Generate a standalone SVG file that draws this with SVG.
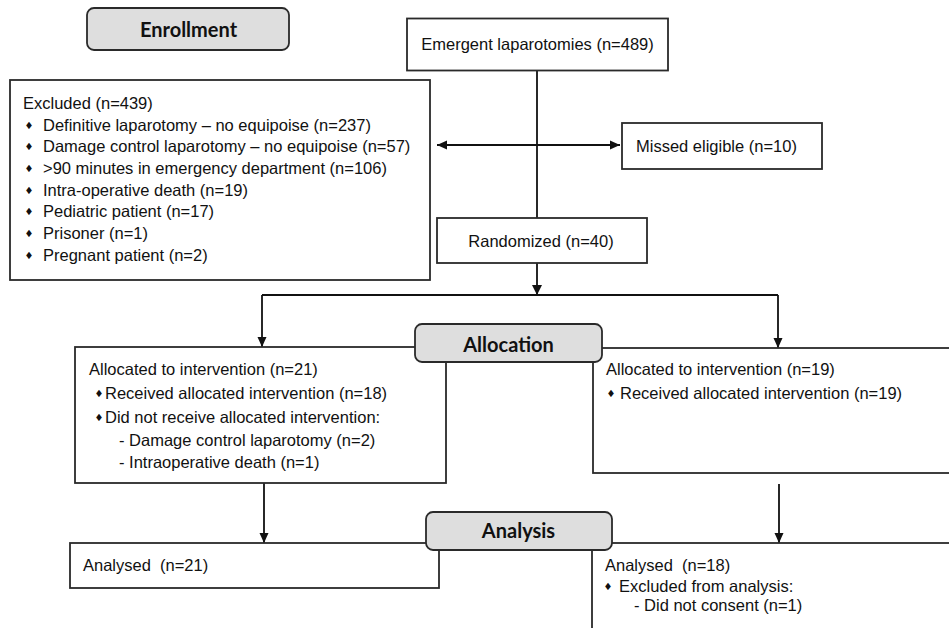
<svg xmlns="http://www.w3.org/2000/svg" width="949" height="628" viewBox="0 0 949 628">
<style>
.box{fill:#fff;stroke:#2a2a2a;stroke-width:1.8}
.hdr{fill:#dedede;stroke:#2a2a2a;stroke-width:1.8}
.t{font-family:"Liberation Sans",Arial,sans-serif;font-size:16.5px;fill:#111}
.h{font-family:Lato,"Open Sans",sans-serif;font-weight:bold;font-size:20px;fill:#111;text-anchor:middle}
.b{font-family:"DejaVu Sans",sans-serif;font-size:10px;fill:#111;text-anchor:middle}
.c{fill:none;stroke:#111;stroke-width:1.8}
</style>
<defs>
<marker id="arr" markerUnits="userSpaceOnUse" markerWidth="10" markerHeight="10" refX="10" refY="5" orient="auto-start-reverse">
<path d="M0,0.5 L10,5 L0,9.5 z" fill="#111"/>
</marker>
</defs>
<rect width="949" height="628" fill="#fff"/>

<g id="connectors">
<path class="c" d="M537,71 V218"/>
<path class="c" d="M437,145 H620" marker-start="url(#arr)" marker-end="url(#arr)"/>
<path class="c" d="M537,263 V295"/>
<path class="c" d="M262,295 H778"/>
<path class="c" d="M262,295 V347" marker-end="url(#arr)"/>
<path class="c" d="M778,295 V348" marker-end="url(#arr)"/>
<path class="c" d="M264,483 V543" marker-end="url(#arr)"/>
<path class="c" d="M779,484 V543" marker-end="url(#arr)"/>
<path d="M532,285 L542,285 L537,295 z" fill="#111"/>
</g>

<g id="enrollment">
<rect class="hdr" x="87" y="8" width="202" height="42" rx="7"/>
<text class="h" x="188.5" y="36.5">Enrollment</text>
</g>

<g id="emergent">
<rect class="box" x="407" y="18.5" width="261" height="52"/>
<text class="t" x="537.5" y="50" text-anchor="middle">Emergent laparotomies (n=489)</text>
</g>

<g id="excluded">
<rect class="box" x="10" y="80" width="420" height="200"/>
<text class="t" x="23" y="109">Excluded (n=439)</text>
<text class="b" x="29" y="128.5">♦</text><text class="t" x="43" y="130.5">Definitive laparotomy – no equipoise (n=237)</text>
<text class="b" x="29" y="150">♦</text><text class="t" x="43" y="152">Damage control laparotomy – no equipoise (n=57)</text>
<text class="b" x="29" y="171.5">♦</text><text class="t" x="43" y="173.5">&gt;90 minutes in emergency department (n=106)</text>
<text class="b" x="29" y="193.5">♦</text><text class="t" x="43" y="195.5">Intra-operative death (n=19)</text>
<text class="b" x="29" y="215">♦</text><text class="t" x="43" y="217">Pediatric patient (n=17)</text>
<text class="b" x="29" y="237">♦</text><text class="t" x="43" y="239">Prisoner (n=1)</text>
<text class="b" x="29" y="258.5">♦</text><text class="t" x="43" y="260.5">Pregnant patient (n=2)</text>
</g>

<g id="missed">
<rect class="box" x="622" y="123" width="200" height="46"/>
<text class="t" x="636" y="152">Missed eligible (n=10)</text>
</g>

<g id="randomized">
<rect class="box" x="437" y="218" width="210" height="45"/>
<text class="t" x="541" y="246.5" text-anchor="middle">Randomized (n=40)</text>
</g>

<g id="alloc-left">
<rect class="box" x="75" y="347" width="371" height="136"/>
<text class="t" x="89" y="375">Allocated to intervention (n=21)</text>
<text class="b" x="99" y="396.5">♦</text><text class="t" x="105" y="398.5">Received allocated intervention (n=18)</text>
<text class="b" x="99" y="420.5">♦</text><text class="t" x="105" y="422.5">Did not receive allocated intervention:</text>
<text class="t" x="119" y="446">- Damage control laparotomy (n=2)</text>
<text class="t" x="119" y="468">- Intraoperative death (n=1)</text>
</g>

<g id="alloc-right">
<rect class="box" x="593" y="348" width="400" height="125"/>
<text class="t" x="606" y="375">Allocated to intervention (n=19)</text>
<text class="b" x="611" y="397">♦</text><text class="t" x="620" y="399">Received allocated intervention (n=19)</text>
</g>

<g id="allocation">
<rect class="hdr" x="415" y="324" width="187" height="38" rx="7"/>
<text class="h" x="508.5" y="352">Allocation</text>
</g>

<g id="analysed-left">
<rect class="box" x="70" y="543" width="369" height="45"/>
<text class="t" x="83" y="571">Analysed&#160; (n=21)</text>
</g>

<g id="analysed-right">
<rect class="box" x="592" y="543" width="400" height="100"/>
<text class="t" x="605" y="571">Analysed&#160; (n=18)</text>
<text class="b" x="608" y="590">♦</text><text class="t" x="619" y="592">Excluded from analysis:</text>
<text class="t" x="634" y="611">- Did not consent (n=1)</text>
</g>

<g id="analysis">
<rect class="hdr" x="426" y="512" width="186" height="38" rx="7"/>
<text class="h" x="518.5" y="538">Analysis</text>
</g>
</svg>
